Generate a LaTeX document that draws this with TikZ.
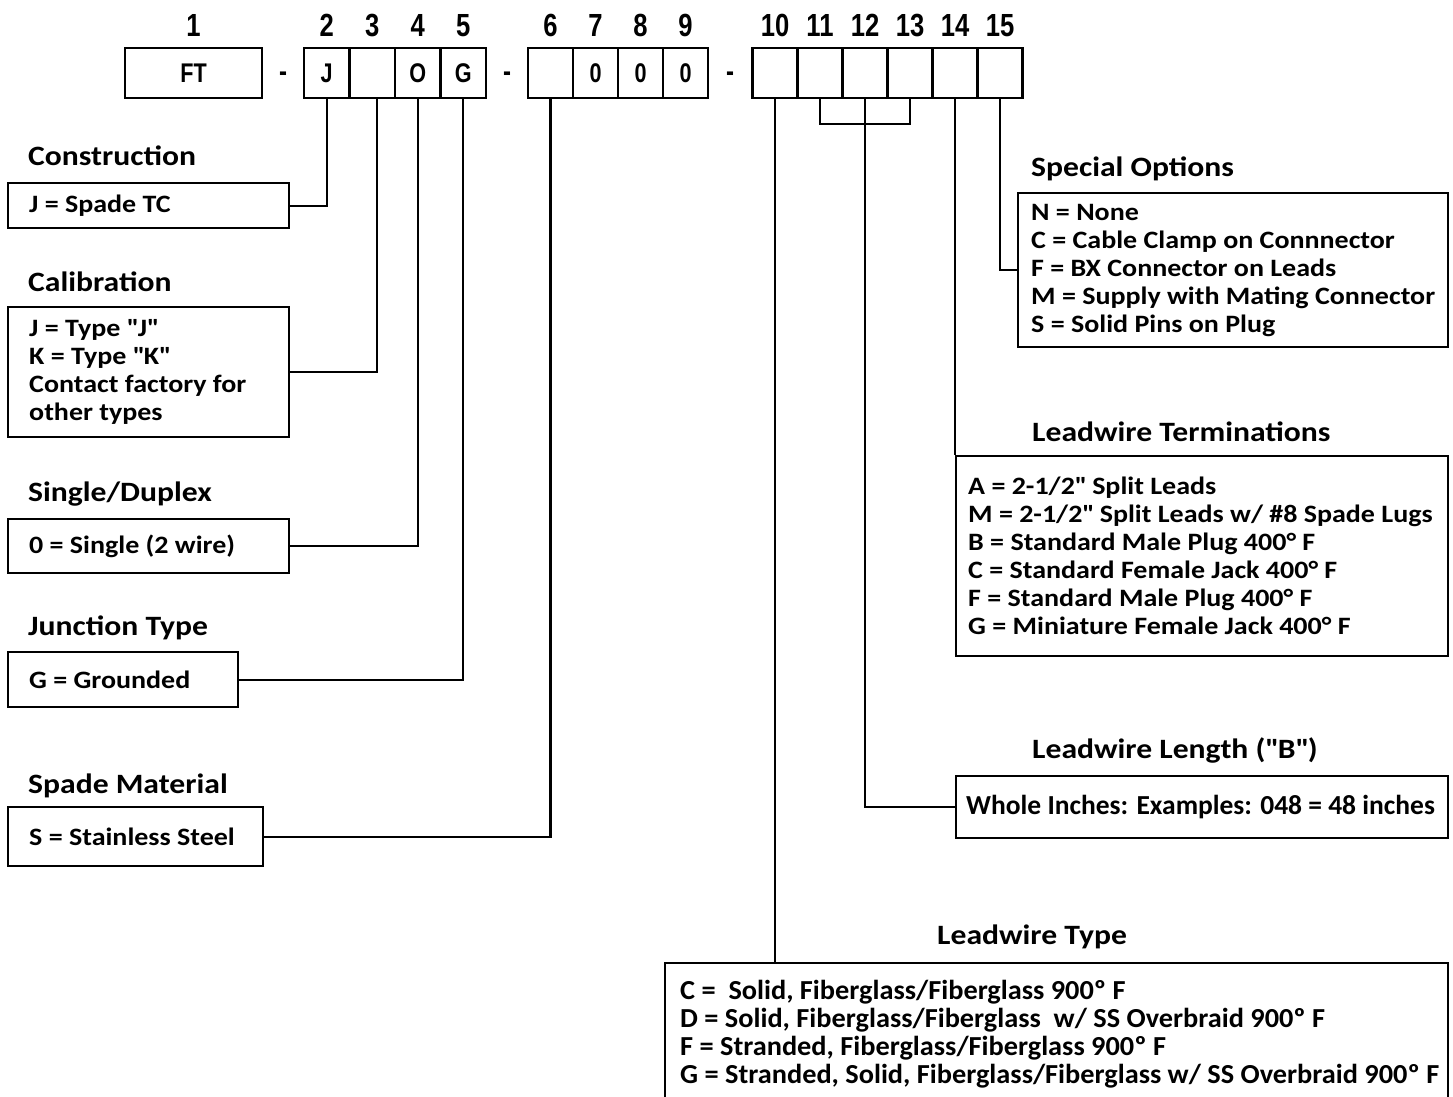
\documentclass[tikz,border=0pt]{standalone}
\usepackage{fontspec}
\setmainfont{Carlito}
\newfontfamily\boxfont[FakeStretch=1.12]{Carlito}
\newfontfamily\titlefont[FakeStretch=1.13]{Carlito}
\newfontfamily\numfont[FakeStretch=0.8]{Liberation Sans}
\newfontfamily\narrowfont[FakeStretch=1.0]{Carlito}
\newfontfamily\typefont[FakeStretch=1.03]{Carlito}
\usepackage{tikz}
\usetikzlibrary{positioning}

\tikzset{
  codebox/.style={draw, line width=2.4pt, outer sep=0pt, inner sep=0pt, minimum width=45pt, minimum height=50pt, font=\numfont\bfseries\fontsize{27}{27}\selectfont},
  numlbl/.style={inner sep=0pt, font=\numfont\bfseries\fontsize{32}{32}\selectfont},
  dashlbl/.style={inner sep=0pt, anchor=base, font=\numfont\bfseries\fontsize{30}{30}\selectfont},
  title/.style={anchor=base west, inner sep=0pt, font=\titlefont\bfseries\fontsize{28}{32}\selectfont},
  optbox/.style={draw, line width=2.4pt, anchor=north west, align=flush left, inner ysep=0pt, font=\boxfont\bfseries\fontsize{25}{28}\selectfont},
  widebox/.style={optbox, font=\narrowfont\bfseries\fontsize{27.5}{28}\selectfont},
  link/.style={line width=2.4pt},
}

\begin{document}
\begin{tikzpicture}[x=1pt, y=-1pt]
    \useasboundingbox (0,0) rectangle (1453,1097);

    % code boxes
    \node [codebox, minimum width=137pt, anchor=north west] (c1) at (125,48) {FT};
    \node [codebox, minimum width=45.5pt, anchor=north west] (c2) at (304,48) {J};
    \node [codebox, minimum width=45.5pt, right=0pt of c2] (c3) {};
    \node [codebox, minimum width=45.5pt, right=0pt of c3] (c4) {O};
    \node [codebox, minimum width=45.5pt, right=0pt of c4] (c5) {G};
    \node [codebox, anchor=north west] (c6) at (528,48) {};
    \node [codebox, right=0pt of c6] (c7) {0};
    \node [codebox, right=0pt of c7] (c8) {0};
    \node [codebox, right=0pt of c8] (c9) {0};
    \node [codebox, anchor=north west] (c10) at (752.5,48) {};
    \node [codebox, right=0pt of c10] (c11) {};
    \node [codebox, right=0pt of c11] (c12) {};
    \node [codebox, right=0pt of c12] (c13) {};
    \node [codebox, right=0pt of c13] (c14) {};
    \node [codebox, right=0pt of c14] (c15) {};

    \node [dashlbl] (d1) at (283,82) {-};
    \node [dashlbl] (d2) at (507,82) {-};
    \node [dashlbl] (d3) at (730,82) {-};

    % position numbers
    \node [numlbl, above=11pt of c1] (n1) {1};
    \node [numlbl, above=11pt of c2] (n2) {2};
    \node [numlbl, above=11pt of c3] (n3) {3};
    \node [numlbl, above=11pt of c4] (n4) {4};
    \node [numlbl, above=11pt of c5] (n5) {5};
    \node [numlbl, above=11pt of c6] (n6) {6};
    \node [numlbl, above=11pt of c7] (n7) {7};
    \node [numlbl, above=11pt of c8] (n8) {8};
    \node [numlbl, above=11pt of c9] (n9) {9};
    \node [numlbl, above=11pt of c10] (n10) {10};
    \node [numlbl, above=11pt of c11] (n11) {11};
    \node [numlbl, above=11pt of c12] (n12) {12};
    \node [numlbl, above=11pt of c13] (n13) {13};
    \node [numlbl, above=11pt of c14] (n14) {14};
    \node [numlbl, above=11pt of c15] (n15) {15};

    % left column
    \node [title] (tconstr) at (28,165) {Construction};
    \node [optbox, text width=251pt, inner xsep=15pt, minimum height=45pt] (constr) at (7,182) {\hspace*{6pt}J = Spade TC};

    \node [title] (tcalib) at (28,291) {Calibration};
    \node [optbox, text width=251pt, inner xsep=15pt, minimum height=130pt] (calib) at (7,306) {\hspace*{6pt}J = Type \textquotedbl J\textquotedbl\\\hspace*{6pt}K = Type \textquotedbl K\textquotedbl\\\hspace*{6pt}Contact factory for\\\hspace*{6pt}other types};

    \node [title] (tsingle) at (28,501) {Single/Duplex};
    \node [optbox, text width=251pt, inner xsep=15pt, minimum height=54pt] (single) at (7,518) {\hspace*{6pt}0 = Single (2 wire)};

    \node [title] (tjunct) at (28,635) {Junction Type};
    \node [optbox, text width=200pt, inner xsep=15pt, minimum height=55pt] (junct) at (7,651) {\hspace*{6pt}G = Grounded};

    \node [title] (tspade) at (28,793) {Spade Material};
    \node [optbox, text width=225pt, inner xsep=15pt, minimum height=59pt] (spade) at (7,806) {\hspace*{6pt}S = Stainless Steel};

    % right column
    \node [title] (tspecial) at (1031,176) {Special Options};
    \node [optbox, text width=420pt, inner xsep=5pt, minimum height=154pt] (special) at (1017,192) {\hspace*{8pt}N = None\\\hspace*{8pt}C = Cable Clamp on Connnector\\\hspace*{8pt}F = BX Connector on Leads\\\hspace*{8pt}M = Supply with Mating Connector\\\hspace*{8pt}S = Solid Pins on Plug};

    \node [title] (tterm) at (1032,441) {Leadwire Terminations};
    \node [optbox, text width=482pt, inner xsep=5pt, minimum height=200pt] (lterm) at (955,455) {\hspace*{7pt}A = 2-1/2\textquotedbl{} Split Leads\\\hspace*{7pt}M = 2-1/2\textquotedbl{} Split Leads w/ \#8 Spade Lugs\\\hspace*{7pt}B = Standard Male Plug 400° F\\\hspace*{7pt}C = Standard Female Jack 400° F\\\hspace*{7pt}F = Standard Male Plug 400° F\\\hspace*{7pt}G = Miniature Female Jack 400° F};

    \node [title] (tlen) at (1032,758) {Leadwire Length (\textquotedbl B\textquotedbl)};
    \node [widebox, text width=482pt, inner xsep=5pt, minimum height=62pt] (llen) at (955,775) {\hspace*{5pt}Whole Inches: Examples: 048 = 48 inches};

    \node [title] (ttype) at (937,944) {Leadwire Type};
    \node [widebox, text width=773pt, inner xsep=5pt, minimum height=142pt, font=\typefont\bfseries\fontsize{27.5}{28}\selectfont] (ltype) at (664,962) {\hspace*{10pt}C = \ Solid, Fiberglass/Fiberglass 900º F\\\hspace*{10pt}D = Solid, Fiberglass/Fiberglass \ w/ SS Overbraid 900º F\\\hspace*{10pt}F = Stranded, Fiberglass/Fiberglass 900º F\\\hspace*{10pt}G = Stranded, Solid, Fiberglass/Fiberglass w/ SS Overbraid 900º F};

    % connectors
    \draw [link] (c2.south) |- (constr.east);
    \draw [link] ([xshift=4.5pt]c3.south) |- (calib.east);
    \draw [link] (c4.south) |- (single.east);
    \draw [link] (c5.south) |- (junct.east);
    \draw [link] (c6.south) |- (spade.east);
    \draw [link] (c10.south) -- (c10.south |- ltype.north);
    \coordinate (brk) at ([yshift=-26pt]c12.south);
    \draw [link] (c11.south) |- (brk) -| (c13.south);
    \draw [link] (c12.south) |- (llen.west);
    \draw [link] (c14.south) -- (lterm.north west);
    \draw [link] (c15.south) |- (special.west);
\end{tikzpicture}
\end{document}
